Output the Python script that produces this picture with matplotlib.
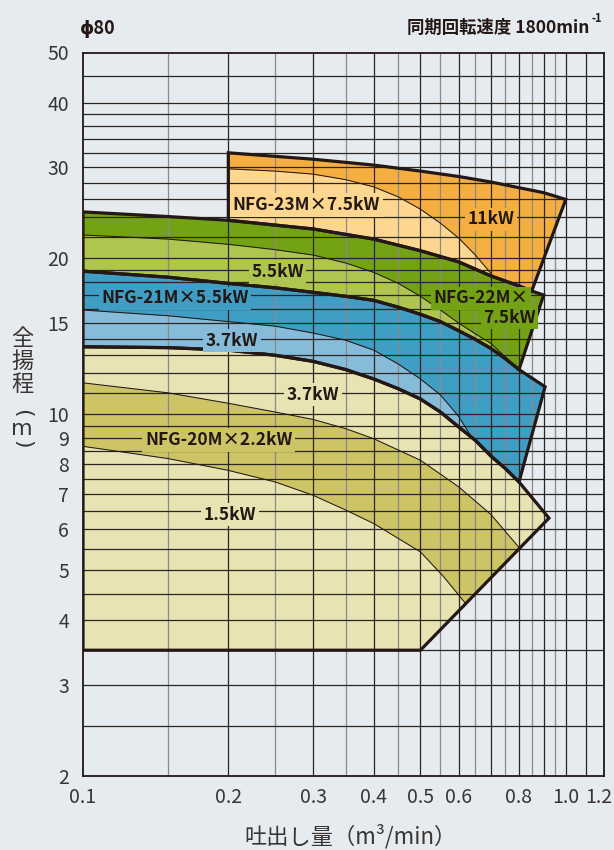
import matplotlib
matplotlib.use('Agg')
import matplotlib.pyplot as plt
from matplotlib.patches import Polygon
from matplotlib.ticker import NullLocator, FixedLocator, FixedFormatter
import matplotlib.transforms as mtransforms
import numpy as np

plt.rcParams['font.family'] = ['Noto Sans CJK JP', 'DejaVu Sans']

# ---------------- data ----------------
x_ticks = [0.1, 0.2, 0.3, 0.4, 0.5, 0.6, 0.8, 1.0, 1.2]
x_ticklabels = ['0.1', '0.2', '0.3', '0.4', '0.5', '0.6', '0.8', '1.0', '1.2']
y_ticks = [2, 3, 4, 5, 6, 7, 8, 9, 10, 15, 20, 30, 40, 50]
y_ticklabels = ['2', '3', '4', '5', '6', '7', '8', '9', '10', '15', '20', '30', '40', '50']

x_grid_major = [0.2, 0.3, 0.4, 0.5, 0.6, 0.7, 0.8, 0.9, 1.0, 1.1]
x_grid_minor = [0.15, 0.25, 0.35, 0.45, 0.55, 0.65, 0.75, 0.85, 0.95]
y_grid = [2.5, 3, 3.5, 4, 4.5, 5, 5.5, 6, 6.5, 7, 7.5, 8, 8.5, 9, 9.5, 10,
          11, 12, 13, 14, 15, 16, 17, 18, 19, 20, 22, 24, 26, 28, 30,
          32, 34, 36, 38, 40, 45]

# NFG-23M (orange) upper boundary
q23_top = [0.2, 0.3, 0.4, 0.5, 0.6, 0.7, 0.8, 0.9, 1.0]
h23_top = [32.0, 31.1, 30.3, 29.5, 28.8, 28.1, 27.4, 26.8, 26.0]
q23_low_corner = 0.85
# 11kW / 7.5kW dividing curve
q23_div = [0.2, 0.25, 0.3, 0.35, 0.4, 0.45, 0.5, 0.55, 0.6, 0.65, 0.7, 0.75]
h23_div = [29.8, 29.5, 29.1, 28.4, 27.5, 26.3, 24.9, 23.4, 21.9, 20.3, 18.7, 16.8]

# NFG-22M (green) upper boundary
q22_top = [0.1, 0.15, 0.2, 0.3, 0.4, 0.5, 0.6, 0.7, 0.8, 0.85, 0.9]
h22_top = [24.6, 24.1, 23.7, 22.8, 21.8, 20.7, 19.7, 18.5, 17.7, 17.3, 17.0]
# 7.5kW / 5.5kW dividing curve
q22_div = [0.1, 0.15, 0.2, 0.25, 0.3, 0.35, 0.4, 0.45, 0.5, 0.55, 0.6, 0.65, 0.7, 0.76, 0.8]
h22_div = [22.2, 21.8, 21.3, 20.8, 20.3, 19.6, 18.8, 17.9, 16.9, 15.9, 15.0, 14.3, 13.7, 12.75, 11.9]

# NFG-21M (blue) upper boundary
q21_top = [0.1, 0.15, 0.2, 0.25, 0.3, 0.35, 0.4, 0.45, 0.5, 0.55, 0.6, 0.65, 0.7, 0.75, 0.8, 0.906]
h21_top = [18.9, 18.4, 17.9, 17.55, 17.2, 16.9, 16.6, 16.1, 15.6, 15.1, 14.5, 13.95, 13.4, 12.8, 12.2, 11.3]
# 5.5kW / 3.7kW dividing curve
q21_div = [0.1, 0.15, 0.2, 0.25, 0.3, 0.35, 0.4, 0.45, 0.5, 0.55, 0.6, 0.635, 0.68]
h21_div = [15.9, 15.5, 15.1, 14.8, 14.35, 13.9, 13.3, 12.5, 11.7, 10.9, 9.9, 9.1, 8.4]

# NFG-20M (khaki) upper boundary
q20_top = [0.1, 0.15, 0.2, 0.25, 0.3, 0.35, 0.4, 0.45, 0.5, 0.55, 0.6, 0.65, 0.7, 0.75, 0.8, 0.923]
h20_top = [13.5, 13.45, 13.3, 13.0, 12.65, 12.2, 11.7, 11.2, 10.7, 10.1, 9.45, 8.9, 8.3, 7.85, 7.4, 6.3]
q20_bottom = [0.5, 0.1]
h20_bottom = [3.5, 3.5]
# 2.2kW band (between two curves)
q20_band_up = [0.1, 0.15, 0.2, 0.25, 0.3, 0.35, 0.4, 0.5, 0.6, 0.7, 0.804, 0.86]
h20_band_up = [11.5, 11.0, 10.5, 10.1, 9.77, 9.38, 8.97, 8.15, 7.24, 6.4, 5.5, 5.0]
q20_band_lo = [0.1, 0.15, 0.2, 0.25, 0.3, 0.35, 0.4, 0.5, 0.559, 0.62, 0.68]
h20_band_lo = [8.67, 8.21, 7.79, 7.40, 6.97, 6.53, 6.15, 5.42, 4.85, 4.31, 3.8]

# region labels: (text, Q, H)
labels_23 = [('NFG-23M×7.5kW', 0.290, 25.6), ('11kW', 0.70, 24.0)]
labels_22 = [('5.5kW', 0.253, 19.0), ('NFG-22M×', 0.666, 16.9), ('7.5kW', 0.765, 15.5)]
labels_21 = [('NFG-21M×5.5kW', 0.155, 16.9), ('3.7kW', 0.2035, 14.0)]
labels_20 = [('3.7kW', 0.30, 11.0), ('NFG-20M×2.2kW', 0.191, 9.0), ('1.5kW', 0.2018, 6.45)]

# ---------------- style ----------------
BG = '#e6ebef'
INK = '#231815'
GRID_D = '#2b2522'
GRID_L = '#8c8a88'
C_OR, C_OR_L = '#f5af41', '#fdd78f'
C_GR, C_GR_L = '#73a314', '#aec550'
C_BL, C_BL_L = '#409dc4', '#87bbda'
C_KH, C_KH_D = '#e7e3b2', '#cdc466'
TICK_C = '#3a3533'

fig = plt.figure(figsize=(6.14, 8.5), dpi=100)
fig.patch.set_facecolor(BG)
ax = fig.add_axes([83 / 614, 1 - 776 / 850, (604 - 83) / 614, (776 - 52.5) / 850])
ax.set_facecolor(BG)
ax.set_xscale('log')
ax.set_yscale('log')
ax.set_xlim(0.1, 1.2)
ax.set_ylim(2, 50)

# grid
for v in x_grid_major:
    ax.axvline(v, color=GRID_D, lw=0.9, zorder=2)
for v in x_grid_minor:
    ax.axvline(v, color=GRID_L, lw=0.9, zorder=2)
for v in y_grid:
    ax.axhline(v, color=GRID_D, lw=0.9, zorder=2)


def arr(a):
    return np.asarray(a, dtype=float)


def region(qtop, htop, qlow, hlow, color):
    pts = np.vstack([np.column_stack([qtop, htop]), np.column_stack([qlow, hlow])])
    p = Polygon(pts, closed=True, fc=color, ec='none', zorder=1)
    ax.add_patch(p)
    outline = Polygon(pts, closed=True, fill=False, ec=INK, lw=2.3, zorder=4,
                      joinstyle='miter')
    ax.add_patch(outline)
    return p


def divider(q, h, color, clip):
    q = arr(q); h = arr(h)
    f = ax.fill_between(q, h, 1.0, color=color, lw=0, zorder=1.5)
    f.set_clip_path(clip)
    ln, = ax.plot(q, h, color=INK, lw=0.75, zorder=3)
    ln.set_clip_path(clip)
    return f


# NFG-23M
q22t, h22t = arr(q22_top), arr(h22_top)
m = (q22t >= 0.2) & (q22t <= q23_low_corner)
p23 = region(arr(q23_top), arr(h23_top), q22t[m][::-1], h22t[m][::-1], C_OR)
divider(q23_div, h23_div, C_OR_L, p23)

# NFG-22M
q21t, h21t = arr(q21_top), arr(h21_top)
m = q21t <= 0.8
p22 = region(q22t, h22t, q21t[m][::-1], h21t[m][::-1], C_GR)
divider(q22_div, h22_div, C_GR_L, p22)

# NFG-21M
q20t, h20t = arr(q20_top), arr(h20_top)
m = q20t <= 0.8
p21 = region(q21t, h21t, q20t[m][::-1], h20t[m][::-1], C_BL)
divider(q21_div, h21_div, C_BL_L, p21)

# NFG-20M
p20 = region(q20t, h20t, arr(q20_bottom), arr(h20_bottom), C_KH)
band = np.vstack([np.column_stack([q20_band_up, h20_band_up]),
                  np.column_stack([q20_band_lo, h20_band_lo])[::-1]])
bp = Polygon(band, closed=True, fc=C_KH_D, ec='none', zorder=1.5)
ax.add_patch(bp)
bp.set_clip_path(p20)
for qq, hh in ((q20_band_up, h20_band_up), (q20_band_lo, h20_band_lo)):
    ln, = ax.plot(qq, hh, color=INK, lw=0.75, zorder=3)
    ln.set_clip_path(p20)

# labels
label_groups = [(labels_23, [C_OR_L, C_OR]), (labels_22, [C_GR_L, C_GR, C_GR]),
                (labels_21, [C_BL, C_BL_L]), (labels_20, [C_KH, C_KH_D, C_KH])]
for labs, cols in label_groups:
    for (s, q, h), c in zip(labs, cols):
        ax.text(q, h, s, ha='center', va='center_baseline', fontsize=12.5,
                fontweight='bold', color=INK, zorder=5,
                bbox=dict(boxstyle='square,pad=0.15', fc=c, ec='none'))

# axes, ticks
ax.xaxis.set_major_locator(FixedLocator(x_ticks))
ax.xaxis.set_major_formatter(FixedFormatter(x_ticklabels))
ax.yaxis.set_major_locator(FixedLocator(y_ticks))
ax.yaxis.set_major_formatter(FixedFormatter(y_ticklabels))
ax.xaxis.set_minor_locator(NullLocator())
ax.yaxis.set_minor_locator(NullLocator())
ax.tick_params(axis='both', length=0, labelsize=14, colors=TICK_C)
ax.tick_params(axis='x', pad=8)
ax.tick_params(axis='y', pad=10)
for sp in ax.spines.values():
    sp.set_color(INK)
    sp.set_linewidth(1.3)
    sp.set_zorder(6)

# nudge the last x tick label so it stays inside the figure
xlabels = ax.get_xticklabels()
shift = mtransforms.ScaledTranslation(-5 / 100, 0, fig.dpi_scale_trans)
xlabels[-1].set_transform(xlabels[-1].get_transform() + shift)

# axis titles (vertical, character by character)
ylab_items = [('全', 338, 0), ('揚', 361, 0), ('程', 385, 0),
              ('(', 413, -90), ('m', 429, 0), (')', 444, -90)]
for ch, py, rot in ylab_items:
    fig.text(22 / 614, 1 - py / 850, ch, ha='center', va='center', fontsize=16,
             color=TICK_C, rotation=rot, family=['DejaVu Sans'] if ch in '()m' else None)
fig.text(350 / 614, 1 - 836 / 850, '吐出し量（m³/min）', ha='center', va='center',
         fontsize=16, color=TICK_C)

fig.text(80 / 614, 1 - 28 / 850, 'ϕ80', ha='left', va='center', fontsize=13,
         fontweight='bold', color=INK)
fig.text(589 / 614, 1 - 28 / 850, '同期回転速度 1800min', ha='right', va='center',
         fontsize=12.5, fontweight='bold', color=INK)
fig.text(592 / 614, 1 - 19 / 850, '-1', ha='left', va='center', fontsize=8,
         fontweight='bold', color=INK)

fig.savefig('out.png', dpi=100, facecolor=BG)
